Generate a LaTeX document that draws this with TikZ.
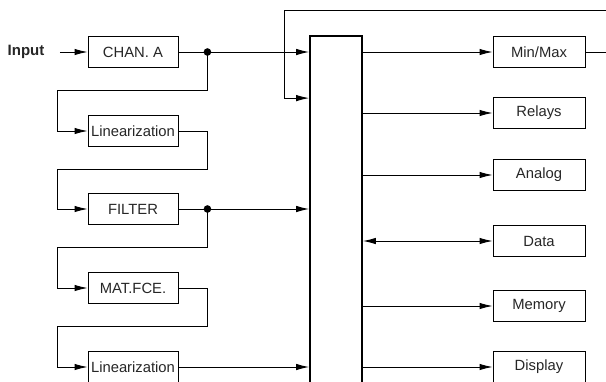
\documentclass[tikz,border=0pt]{standalone}
\usepackage{fontspec}
\setmainfont{Liberation Sans}
\usetikzlibrary{arrows.meta}

\begin{document}
\begin{tikzpicture}[>={Latex[length=13pt,width=6.5pt]},x=1pt,y=-1pt,
	box/.style={draw,line width=0.9pt,minimum height=31pt,inner sep=0pt},
	lbox/.style={box,minimum width=90pt},
	rbox/.style={box,minimum width=92pt},
	wire/.style={line width=0.9pt}]

\useasboundingbox (0,0) rectangle (606,381);
\clip (0,0) rectangle (606,381);

\def\knoten#1{
	\fill ([xshift=29pt]#1.east) circle[radius=3.8pt];
}

\begin{scope}[font=\fontsize{14.8}{17}\selectfont,text=black!85]
	\node[font=\fontsize{15}{17}\selectfont\bfseries] (input) at (26,52) {Input};
	\node[lbox] (chan) at (133,52) {CHAN. A};
	\node[lbox] (lin1) at (133,131) {Linearization};
	\node[lbox] (filt) at (133,209) {FILTER};
	\node[lbox] (mat) at (133,288) {MAT.FCE.};
	\node[lbox] (lin2) at (133,367) {Linearization};

	\node[rbox] (minmax) at (539,52) {Min/Max};
	\node[rbox] (relays) at (539,113) {Relays};
	\node[rbox] (analog) at (539,175) {Analog};
	\node[rbox] (data) at (539,241) {Data};
	\node[rbox] (memory) at (539,306) {Memory};
	\node[rbox] (display) at (539,367) {Display};
\end{scope}

\node[draw,line width=1.8pt,minimum width=52pt,minimum height=380pt] (bus) at (336,226) {};

\draw[wire,->] ([xshift=12pt]input.east) -- (chan);
\foreach \a/\b in {chan/lin1,lin1/filt,filt/mat,mat/lin2}{
	\draw[wire,->] (\a.east) -- ++(29,0) |- ([xshift=-76pt,yshift=-22.5pt]\a.south) |- (\b.west);
}
\knoten{chan}
\knoten{filt}
\foreach \n in {chan,filt,lin2}{
	\draw[wire,->] (\n.east) -- (\n.east -| bus.west);
}

% feedback from Min/Max
\coordinate (fb) at (284,10);
\draw[wire,->] (minmax.east) -- ++(40,0) |- (fb) |- ([yshift=-63pt]bus.north west);

\foreach \n in {minmax,relays,analog,memory,display}{
	\draw[wire,->] (bus.east |- \n) -- (\n);
}
\draw[wire,<->] (bus.east |- data) -- (data);

\end{tikzpicture}
\end{document}
